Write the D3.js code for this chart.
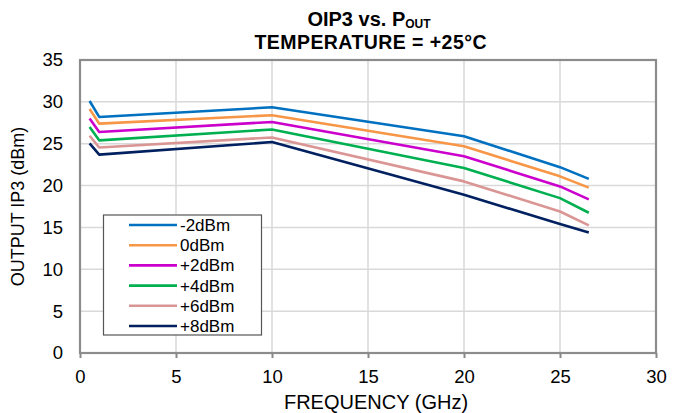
<!DOCTYPE html>
<html><head><meta charset="utf-8">
<script src="https://cdn.jsdelivr.net/npm/d3@7"></script>
<style>
body{margin:0;background:#fff;}
text{font-family:"Liberation Sans",Arial,sans-serif;}
</style></head>
<body><svg id="c" width="683" height="413"></svg>
<script>
const freqs = [0.5, 1, 10, 20, 25, 26.5];
const seriesNames = ["-2dBm", "0dBm", "+2dBm", "+4dBm", "+6dBm", "+8dBm"];
const seriesColors = ["#0070C0", "#F79646", "#CC00CC", "#00B050", "#DA9694", "#002060"];
const pm2 = [30.1, 28.2, 29.35, 25.9, 22.2, 20.8];
const p0  = [29.15, 27.4, 28.4, 24.7, 21.1, 19.75];
const p2  = [28.0, 26.4, 27.6, 23.5, 19.9, 18.35];
const p4  = [27.0, 25.4, 26.7, 22.1, 18.5, 16.75];
const p6  = [25.95, 24.55, 25.75, 20.5, 16.9, 15.25];
const p8  = [25.05, 23.7, 25.2, 18.9, 15.4, 14.4];
const seriesValues = [pm2, p0, p2, p4, p6, p8];
const xTicks = [0, 5, 10, 15, 20, 25, 30];
const yTicks = [0, 5, 10, 15, 20, 25, 30, 35];

const svg = d3.select("#c");
const L = 80, R = 656, T = 60, B = 353;
const x = d3.scaleLinear().domain([0, 30]).range([L, R]);
const y = d3.scaleLinear().domain([0, 35]).range([B, T]);

// gridlines
svg.append("g").selectAll("line.gx").data(xTicks.slice(1, -1)).join("line")
  .attr("x1", d => x(d)).attr("x2", d => x(d)).attr("y1", T).attr("y2", B)
  .attr("stroke", "#D9D9D9").attr("stroke-width", 1.5);
svg.append("g").selectAll("line.gy").data(yTicks.slice(1, -1)).join("line")
  .attr("y1", d => y(d)).attr("y2", d => y(d)).attr("x1", L).attr("x2", R)
  .attr("stroke", "#D9D9D9").attr("stroke-width", 1.5);

// axes
const xAxis = d3.axisBottom(x).tickValues(xTicks).tickSize(5).tickPadding(12).tickFormat(d3.format("d"));
const gx = svg.append("g").attr("transform", `translate(0,${B})`).call(xAxis);
gx.select(".domain").remove();
gx.selectAll("line").attr("stroke", "#888").attr("stroke-width", 2);
gx.selectAll("text").attr("font-size", 18.5).attr("fill", "#000");

const yAxis = d3.axisLeft(y).tickValues(yTicks).tickSize(0).tickPadding(17).tickFormat(d3.format("d"));
const gy = svg.append("g").attr("transform", `translate(${L},0)`).call(yAxis);
gy.select(".domain").remove();
gy.selectAll("text").attr("font-size", 18.5).attr("fill", "#000");

// frame
svg.append("rect").attr("x", L).attr("y", T).attr("width", R - L).attr("height", B - T)
  .attr("fill", "none").attr("stroke", "#8C8C8C").attr("stroke-width", 2.2);

// lines
const line = d3.line().x((d, i) => x(freqs[i])).y(d => y(d));
svg.append("g").selectAll("path").data(seriesValues).join("path")
  .attr("d", d => line(d)).attr("fill", "none")
  .attr("stroke", (d, i) => seriesColors[i]).attr("stroke-width", 2.6)
  .attr("stroke-linejoin", "round");

// legend
const lg = svg.append("g");
lg.append("rect").attr("x", 103.5).attr("y", 215).attr("width", 158).attr("height", 120)
  .attr("fill", "#fff").attr("stroke", "#555").attr("stroke-width", 1.2);
seriesNames.forEach((n, i) => {
  const yy = 225 + i * 20.2;
  lg.append("line").attr("x1", 129).attr("x2", 177).attr("y1", yy).attr("y2", yy)
    .attr("stroke", seriesColors[i]).attr("stroke-width", 2.6);
  lg.append("text").attr("x", 180).attr("y", yy + 6).attr("font-size", 17).attr("fill", "#000").text(n);
});

// title (one text element, two lines)
const title = svg.append("text").attr("text-anchor", "middle")
  .attr("font-weight", "bold").attr("fill", "#000");
const l1 = title.append("tspan").attr("x", 369).attr("y", 26).attr("font-size", 20);
l1.append("tspan").text("OIP3 vs. P");
l1.append("tspan").attr("dy", 2).attr("font-size", 12).text("OUT");
title.append("tspan").attr("x", 370.5).attr("y", 48.5).attr("font-size", 19.5)
  .attr("textLength", 232).attr("lengthAdjust", "spacing").text("TEMPERATURE = +25°C");

svg.append("text").attr("x", 376).attr("y", 409).attr("text-anchor", "middle")
  .attr("font-size", 20).attr("fill", "#000").text("FREQUENCY (GHz)");
svg.append("text").attr("transform", `translate(24,${(T + B) / 2}) rotate(-90)`)
  .attr("text-anchor", "middle").attr("font-size", 18).attr("fill", "#000").text("OUTPUT IP3 (dBm)");
</script></body></html>
